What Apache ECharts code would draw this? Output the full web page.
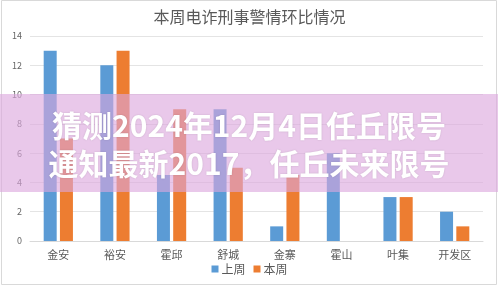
<!DOCTYPE html>
<html><head><meta charset="utf-8">
<script src="https://cdn.jsdelivr.net/npm/echarts@6/dist/echarts.min.js"></script>
<style>html,body{margin:0;padding:0;background:#fff}#c{width:499px;height:286px}</style>
</head><body><div id="c"></div>
<script>
const categories = ['金安','裕安','霍邱','舒城','金寨','霍山','叶集','开发区'];
const lastWeek = [13, 12, 4.5, 9, 1, 6, 3, 2];
const thisWeek = [7, 13, 9, 5, 4.5, 0, 3, 1];
const seriesNames = ['上周','本周'];
const yTicks = [0, 2, 4, 6, 8, 10, 12, 14];
const titleText = '本周电诈刑事警情环比情况';
const bannerLines = ['猜测2024年12月4日任丘限号', '通知最新2017，任丘未来限号'];

const font = '"Noto Sans CJK SC", "Microsoft YaHei", sans-serif';
const chart = echarts.init(document.getElementById('c'), null, {renderer:'canvas'});
chart.setOption({
  animation:false,
  textStyle:{fontFamily:font},
  title:{text:titleText,left:'center',top:4,textStyle:{fontSize:16,fontWeight:'normal',color:'#595959',fontFamily:font}},
  legend:{bottom:6,left:'center',itemWidth:7,itemHeight:7,itemGap:8,icon:'rect',
    textStyle:{fontSize:12,color:'#595959',padding:[0,0,0,-2]},data:seriesNames},
  grid:{left:30,right:16,top:36,bottom:45,containLabel:false},
  xAxis:{type:'category',data:categories,
    axisLine:{lineStyle:{color:'#d9d9d9'}},axisTick:{show:false},
    axisLabel:{fontSize:11,color:'#595959',margin:8}},
  yAxis:{type:'value',min:yTicks[0],max:yTicks[yTicks.length-1],interval:2,
    axisLine:{show:false},axisTick:{show:false},
    splitLine:{lineStyle:{color:'#e4e4e4'}},
    axisLabel:{fontSize:9,color:'#666',margin:8}},
  series:[
    {name:seriesNames[0],type:'bar',data:lastWeek,itemStyle:{color:'#5B9BD5'},barWidth:13,barGap:'25%'},
    {name:seriesNames[1],type:'bar',data:thisWeek,itemStyle:{color:'#ED7D31'},barWidth:13}
  ],
  graphic:[
    {type:'rect',shape:{x:1.5,y:0.5,width:495,height:284},style:{fill:'none',stroke:'#d9d9d9',lineWidth:1},z:0,silent:true},
    {type:'rect',shape:{x:0,y:94,width:498,height:98},style:{fill:'rgba(219,166,221,0.62)'},z:100,silent:true},
    {type:'text',x:249,y:126,style:{text:bannerLines[0],fill:'#fff',font:'bold 30px '+font,align:'center',verticalAlign:'middle',
      textShadowColor:'rgba(0,0,0,0.15)',textShadowBlur:2},z:101,silent:true},
    {type:'text',x:249,y:164,style:{text:bannerLines[1],fill:'#fff',font:'bold 30px '+font,align:'center',verticalAlign:'middle',
      textShadowColor:'rgba(0,0,0,0.15)',textShadowBlur:2},z:101,silent:true}
  ]
});
</script></body></html>
